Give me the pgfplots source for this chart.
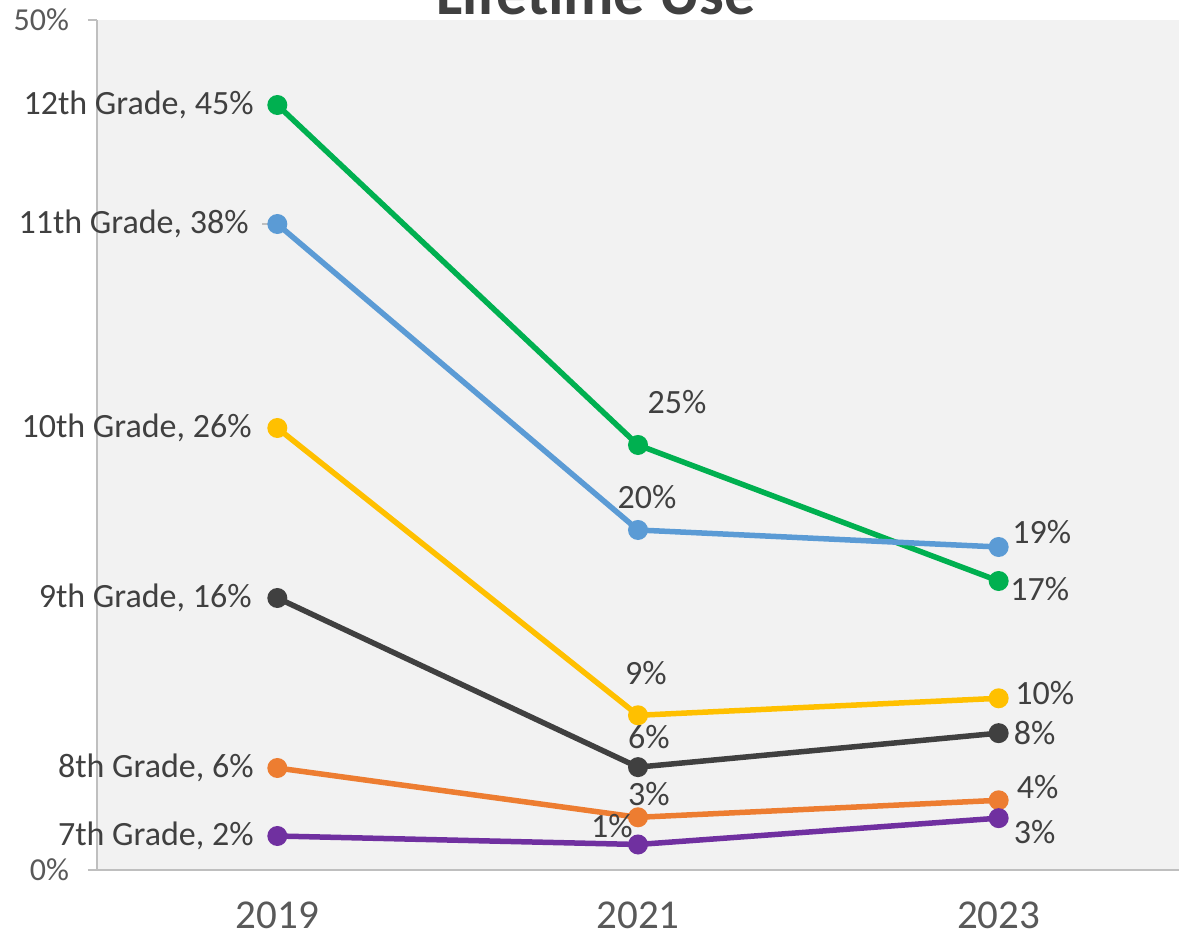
\documentclass[border=0pt]{standalone}
\usepackage{pgfplots}
\pgfplotsset{compat=1.18}
\usepackage{pgfplotstable}
\usepackage{fontspec}
\setmainfont{Carlito}
\definecolor{cgreen}{HTML}{00B050}
\definecolor{cblue}{HTML}{5B9BD5}
\definecolor{cyellow}{HTML}{FFC000}
\definecolor{cdark}{HTML}{404040}
\definecolor{corange}{HTML}{ED7D31}
\definecolor{cpurple}{HTML}{7030A0}
\definecolor{ctext}{HTML}{404040}
\definecolor{ctick}{HTML}{595959}
\definecolor{cbg}{HTML}{F2F2F2}
\definecolor{caxis}{HTML}{BFBFBF}

% anc: 1 = label right-aligned left of point, 0 = label centred at offset
\pgfplotstableread[col sep=semicolon]{
x;y;lbl;anc;dx;dy
0;45;12th Grade, 45\%;1;-10.5;0
1;25;25\%;0;19.5;21.5
2;17;17\%;0;20.5;-4
}\tgreen
\pgfplotstableread[col sep=semicolon]{
x;y;lbl;anc;dx;dy
0;38;11th Grade, 38\%;1;-13;0
1;20;20\%;0;4.5;16.5
2;19;19\%;0;21.5;7.5
}\tblue
\pgfplotstableread[col sep=semicolon]{
x;y;lbl;anc;dx;dy
0;26;10th Grade, 26\%;1;-11.5;0
1;9.1;9\%;0;4;21
2;10.1;10\%;0;23;2.5
}\tyellow
\pgfplotstableread[col sep=semicolon]{
x;y;lbl;anc;dx;dy
0;16;9th Grade, 16\%;1;-11.5;0
1;6.05;6\%;0;5.5;15
2;8.05;8\%;0;18;0
}\tdark
\pgfplotstableread[col sep=semicolon]{
x;y;lbl;anc;dx;dy
0;6;8th Grade, 6\%;1;-10.5;0
1;3.1;3\%;0;5.5;11.5
2;4.1;4\%;0;19.5;6.5
}\torange
\pgfplotstableread[col sep=semicolon]{
x;y;lbl;anc;dx;dy
0;2;7th Grade, 2\%;1;-10.5;0
1;1.5;1\%;0;-13;9
2;3.05;3\%;0;18;-7
}\tpurple

\pgfplotsset{
  ser/.style={
    color=#1, mark options={fill=#1}, line width=2.75pt, mark=*, mark size=3.6pt,
    point meta=explicit symbolic,
    nodes near coords,
    visualization depends on={\thisrow{anc} \as \anc},
    visualization depends on={\thisrow{dx} \as \dx},
    visualization depends on={\thisrow{dy} \as \dy},
    every node near coord/.append style={font=\fontsize{17}{17}\selectfont, text=ctext, anchor={\ifdim\anc pt>0.5pt east\else center\fi}, xshift=\dx*1pt, yshift=\dy*1pt, inner sep=0pt},
  },
}

\begin{document}
\begin{tikzpicture}
\useasboundingbox (0,0) rectangle (589.5pt,471pt);
\begin{axis}[
  at={(48.5pt,36pt)}, anchor=south west,
  scale only axis, width=541pt, height=425pt,
  xmin=-0.5, xmax=2.5, ymin=0, ymax=50,
  axis x line=bottom, axis y line=left,
  axis line style={draw=caxis, line width=1pt, -},
  axis background/.style={fill=cbg},
  xtick={0,1,2}, xticklabels={2019,2021,2023},
  x tick style={draw=none},
  xticklabel style={font=\fontsize{20.5}{20.5}\selectfont, text=ctick, yshift=-8pt},
  ytick={0,50}, yticklabels={0\%,50\%},
  tick align=outside, major tick length=4.5pt,
  y tick style={draw=caxis, line width=0.8pt},
  yticklabel style={font=\fontsize{16}{16}\selectfont, text=ctick, xshift=-6pt},
  clip=false,
]
\draw[caxis, line width=0.8pt] ([xshift=-7.5pt]axis cs:0,38) -- (axis cs:0,38);
\addplot[ser=cgreen] table[x=x, y=y, meta=lbl] {\tgreen};
\addplot[ser=cblue] table[x=x, y=y, meta=lbl] {\tblue};
\addplot[ser=cyellow] table[x=x, y=y, meta=lbl] {\tyellow};
\addplot[ser=cdark] table[x=x, y=y, meta=lbl] {\tdark};
\addplot[ser=corange] table[x=x, y=y, meta=lbl] {\torange};
\addplot[ser=cpurple] table[x=x, y=y, meta=lbl] {\tpurple};
\end{axis}
\node[anchor=base, font=\bfseries\fontsize{31}{31}\selectfont, text=ctext] at (298pt,463.5pt) {Lifetime Use};
\end{tikzpicture}
\end{document}
